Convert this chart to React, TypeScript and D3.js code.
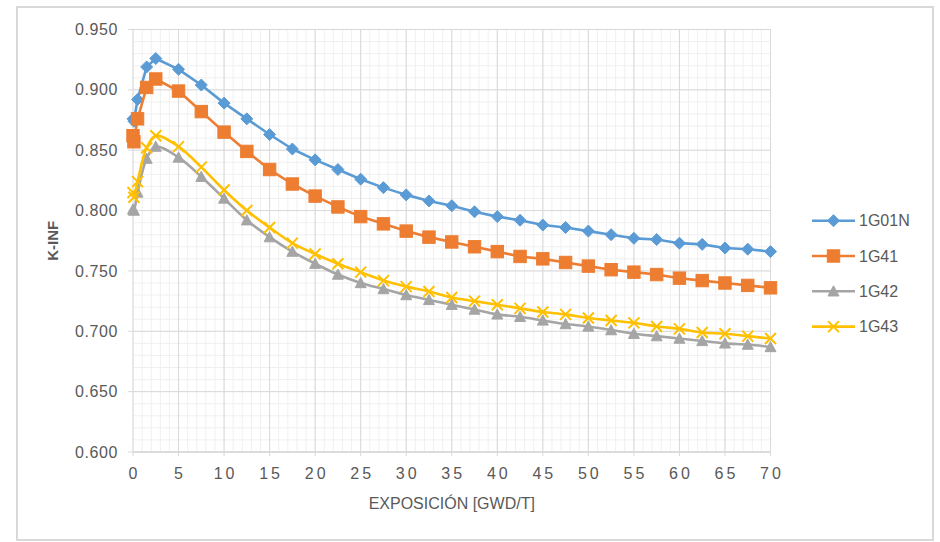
import React from "react";
import * as d3 from "d3";

const exposure = [0, 0.1, 0.5, 1.5, 2.5, 5, 7.5, 10, 12.5, 15, 17.5, 20, 22.5, 25, 27.5, 30, 32.5, 35, 37.5, 40, 42.5, 45, 47.5, 50, 52.5, 55, 57.5, 60, 62.5, 65, 67.5, 70];

const s1G01N = [0.876, 0.874, 0.892, 0.919, 0.926, 0.917, 0.904, 0.889, 0.876, 0.863, 0.851, 0.842, 0.834, 0.826, 0.819, 0.813, 0.808, 0.804, 0.799, 0.795, 0.792, 0.788, 0.786, 0.783, 0.780, 0.777, 0.776, 0.773, 0.772, 0.769, 0.768, 0.766];
const s1G41 = [0.862, 0.857, 0.876, 0.902, 0.909, 0.899, 0.882, 0.865, 0.849, 0.834, 0.822, 0.812, 0.803, 0.795, 0.789, 0.783, 0.778, 0.774, 0.770, 0.766, 0.762, 0.760, 0.757, 0.754, 0.751, 0.749, 0.747, 0.744, 0.742, 0.740, 0.738, 0.736];
const s1G42 = [0.801, 0.800, 0.815, 0.843, 0.853, 0.844, 0.828, 0.810, 0.792, 0.778, 0.766, 0.756, 0.747, 0.740, 0.735, 0.730, 0.726, 0.722, 0.718, 0.714, 0.712, 0.709, 0.706, 0.704, 0.701, 0.698, 0.696, 0.694, 0.692, 0.690, 0.689, 0.687];
const s1G43 = [0.815, 0.811, 0.824, 0.852, 0.862, 0.853, 0.836, 0.817, 0.800, 0.786, 0.773, 0.764, 0.756, 0.749, 0.742, 0.737, 0.733, 0.728, 0.725, 0.722, 0.719, 0.716, 0.714, 0.711, 0.709, 0.707, 0.704, 0.702, 0.699, 0.698, 0.696, 0.694];

const seriesNames = ["1G01N", "1G41", "1G42", "1G43"];
const seriesColors = ["#5B9BD5", "#ED7D31", "#A5A5A5", "#FFC000"];
const seriesMarkers = ["diamond", "square", "triangle", "cross"];
const seriesSmooth = [false, false, true, true];

const xTicks = [0, 5, 10, 15, 20, 25, 30, 35, 40, 45, 50, 55, 60, 65, 70];
const yTicks = [0.6, 0.65, 0.7, 0.75, 0.8, 0.85, 0.9, 0.95];

const xTitle = "EXPOSICIÓN [GWD/T]";
const yTitle = "K-INF";

const FONT = "'Liberation Sans', Arial, sans-serif";
const TEXT = "#595959";

function Marker({ type, x, y, color }: { type: string; x: number; y: number; color: string }) {
  if (type === "diamond") {
    const r = 6;
    return <path d={`M${x},${y - r}L${x + r},${y}L${x},${y + r}L${x - r},${y}Z`} fill={color} stroke={color} strokeWidth={1} />;
  }
  if (type === "square") {
    const r = 6.2;
    return <rect x={x - r} y={y - r} width={2 * r} height={2 * r} fill={color} stroke={color} strokeWidth={1} />;
  }
  if (type === "triangle") {
    const r = 5.5;
    return <path d={`M${x},${y - r}L${x + r},${y + r * 0.85}L${x - r},${y + r * 0.85}Z`} fill={color} stroke={color} strokeWidth={1} />;
  }
  const r = 5.5;
  return (
    <path d={`M${x - r},${y - r}L${x + r},${y + r}M${x - r},${y + r}L${x + r},${y - r}`} stroke={color} strokeWidth={2} fill="none" />
  );
}

export default function App() {
  const W = 940;
  const H = 542;
  const left = 133;
  const right = 770.5;
  const top = 29.5;
  const bottom = 452;

  const x = d3.scaleLinear().domain([0, 70]).range([left, right]);
  const y = d3.scaleLinear().domain([0.6, 0.95]).range([bottom, top]);

  const data = [s1G01N, s1G41, s1G42, s1G43];

  const minorX = d3.range(0, 71, 1);
  const minorY = d3.range(0, 36).map((i) => 0.6 + i * 0.01);

  return (
    <svg width={W} height={H} style={{ position: "absolute", left: 0, top: 0, background: "#fff" }}>
      <rect x={17} y={7} width={916} height={533} fill="#fff" stroke="#d9d9d9" strokeWidth={2} />
      {minorX.map((v) => (
        <line key={"mx" + v} x1={x(v)} x2={x(v)} y1={top} y2={bottom} stroke="#f0f0f0" strokeWidth={1} />
      ))}
      {minorY.map((v, i) => (
        <line key={"my" + i} x1={left} x2={right} y1={y(v)} y2={y(v)} stroke="#f0f0f0" strokeWidth={1} />
      ))}
      {xTicks.map((v) => (
        <line key={"gx" + v} x1={x(v)} x2={x(v)} y1={top} y2={bottom + 4} stroke="#d9d9d9" strokeWidth={1} />
      ))}
      {yTicks.map((v) => (
        <line key={"gy" + v} x1={left - 5} x2={right} y1={y(v)} y2={y(v)} stroke="#d9d9d9" strokeWidth={1} />
      ))}
      <line x1={left} x2={right} y1={bottom} y2={bottom} stroke="#d9d9d9" strokeWidth={1.5} />
      {yTicks.map((v) => (
        <text key={"ty" + v} x={118} y={y(v)} dy="0.35em" textAnchor="end" fontFamily={FONT} fontSize={16} fill={TEXT} letterSpacing={0.6}>
          {d3.format(".3f")(v)}
        </text>
      ))}
      {xTicks.map((v) => (
        <text key={"tx" + v} x={x(v) + 1.5} y={479} textAnchor="middle" fontFamily={FONT} fontSize={16} fill={TEXT} letterSpacing={3}>
          {v}
        </text>
      ))}
      <text x={(left + right) / 2} y={509} textAnchor="middle" fontFamily={FONT} fontSize={16} fill={TEXT}>
        {xTitle}
      </text>
      <text transform={`translate(58,${(top + bottom) / 2}) rotate(-90)`} textAnchor="middle" fontFamily={FONT} fontSize={15} fontWeight="bold" fill={TEXT}>
        {yTitle}
      </text>
      {data.map((vals, si) => {
        const pts: [number, number][] = exposure.map((e, i) => [x(e), y(vals[i])]);
        const gen = d3.line().curve(seriesSmooth[si] ? d3.curveCatmullRom.alpha(0.5) : d3.curveLinear);
        return (
          <g key={seriesNames[si]}>
            <path d={gen(pts) || ""} fill="none" stroke={seriesColors[si]} strokeWidth={2.6} strokeLinejoin="round" />
            {pts.map((p, i) => (
              <Marker key={i} type={seriesMarkers[si]} x={p[0]} y={p[1]} color={seriesColors[si]} />
            ))}
          </g>
        );
      })}
      {seriesNames.map((name, i) => {
        const ly = 220.7 + i * 35.3;
        return (
          <g key={"lg" + name}>
            <line x1={812} x2={855} y1={ly} y2={ly} stroke={seriesColors[i]} strokeWidth={2.6} />
            <Marker type={seriesMarkers[i]} x={833.5} y={ly} color={seriesColors[i]} />
            <text x={859} y={ly} dy="0.35em" fontFamily={FONT} fontSize={16} fill={TEXT}>
              {name}
            </text>
          </g>
        );
      })}
    </svg>
  );
}
